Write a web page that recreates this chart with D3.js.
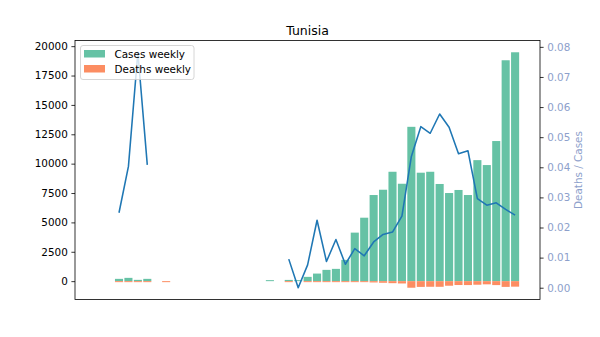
<!DOCTYPE html>
<html>
<head>
<meta charset="utf-8">
<script src="https://cdn.jsdelivr.net/npm/d3@7"></script>
<style>
  html, body { margin: 0; padding: 0; background: #fff; }
  svg { display: block; font-family: "DejaVu Sans", sans-serif; }
</style>
</head>
<body>
<svg id="chart" width="600" height="337"></svg>
<script>
// Week index (0 = first plotted week)
const weeks = d3.range(0, 43);
const casesWeekly = [195, 280, 110, 195, 0, 0, 0, 0, 0, 0,
  0, 0, 0, 0, 0, 0, 30, 0, 105, 10,
  365, 645, 960, 1045, 1810, 4130, 5400, 7330, 7780, 9310,
  8290, 13135, 9230, 9310, 8270, 7500, 7760, 7330, 10300, 9880,
  11925, 18800, 19480];
const deathsWeekly = [5, 11, 9, 8, 0, 10, 0, 0, 0, 0,
  0, 0, 0, 0, 0, 0, 0, 0, 1, 0,
  3, 14, 8, 17, 14, 54, 57, 111, 138, 172,
  197, 560, 490, 478, 480, 390, 330, 334, 305, 271,
  336, 489, 469];
const ratioWeekly = [0.0249, 0.0403, 0.0782, 0.0408, null, null, null, null, null, null,
  null, null, null, null, null, null, null, null, 0.0095, 0.0,
  0.0076, 0.0224, 0.0087, 0.0160, 0.0078, 0.0130, 0.0106, 0.0152, 0.0177, 0.0185,
  0.0238, 0.0436, 0.0535, 0.0513, 0.0577, 0.0533, 0.0445, 0.0455, 0.0296, 0.0274,
  0.0282, 0.0260, 0.0241];
const leftTicks = [0, 2500, 5000, 7500, 10000, 12500, 15000, 17500, 20000];
const rightTicks = [0, 0.01, 0.02, 0.03, 0.04, 0.05, 0.06, 0.07, 0.08];
const title = "Tunisia";
const legendLabels = ["Cases weekly", "Deaths weekly"];
const colors = { cases: "#66c2a5", deaths: "#fc8d62", line: "#1f77b4", axis2: "#8da0cb" };

const svg = d3.select("#chart");
const L = 75, R = 540, T = 40.5, B = 299.5;

const x = d3.scaleLinear().domain([-4.666, 44.64]).range([L, R]);
const barW = (x(1) - x(0)) * 0.857;

const yMin = -d3.max(deathsWeekly), yMax = d3.max(casesWeekly);
const yPad = (yMax - yMin) * 0.05;
const y = d3.scaleLinear().domain([yMin - yPad, yMax + yPad]).range([B, T]);

const rMax = d3.max(ratioWeekly.filter(v => v != null));
const rPad = rMax * 0.05;
const y2 = d3.scaleLinear().domain([-rPad, rMax + rPad]).range([B, T]);

const data = weeks.map((w, i) => ({ w, c: casesWeekly[i], d: deathsWeekly[i], r: ratioWeekly[i] }));

const plot = svg.append("g");
// cases bars
plot.selectAll("rect.cases").data(data.filter(d => d.c > 0)).join("rect")
  .attr("class", "cases")
  .attr("x", d => x(d.w) - barW / 2)
  .attr("width", barW)
  .attr("y", d => Math.min(y(d.c), y(0) - 1))
  .attr("height", d => Math.max(y(0) - y(d.c), 1))
  .attr("fill", colors.cases);
// deaths bars (downward)
plot.selectAll("rect.deaths").data(data.filter(d => d.d > 0)).join("rect")
  .attr("class", "deaths")
  .attr("x", d => x(d.w) - barW / 2)
  .attr("width", barW)
  .attr("y", y(0))
  .attr("height", d => Math.max(y(-d.d) - y(0), 1))
  .attr("fill", colors.deaths);

// ratio line
const line = d3.line().defined(d => d.r != null).x(d => x(d.w)).y(d => y2(d.r));
plot.append("path").datum(data)
  .attr("d", line)
  .attr("fill", "none")
  .attr("stroke", colors.line)
  .attr("stroke-width", 1.56)
  .attr("stroke-linejoin", "round");

// axes
const fmtL = d3.format("d");
const axL = svg.append("g").attr("transform", `translate(${L},0)`)
  .call(d3.axisLeft(y).tickValues(leftTicks).tickFormat(fmtL).tickSize(3.6).tickPadding(3.6));
axL.select(".domain").remove();
axL.selectAll("text").attr("font-size", "10.4px").attr("fill", "#000").attr("font-family", "DejaVu Sans");
axL.selectAll("line").attr("stroke", "#000").attr("stroke-width", 0.8);

const axR = svg.append("g").attr("transform", `translate(${R},0)`)
  .call(d3.axisRight(y2).tickValues(rightTicks).tickFormat(d3.format(".2f")).tickSize(3.6).tickPadding(3.6));
axR.select(".domain").remove();
axR.selectAll("text").attr("font-size", "10.4px").attr("fill", colors.axis2).attr("font-family", "DejaVu Sans");
axR.selectAll("line").attr("stroke", "#000").attr("stroke-width", 0.8);

// frame
svg.append("rect").attr("x", L).attr("y", T).attr("width", R - L).attr("height", B - T)
  .attr("fill", "none").attr("stroke", "#000").attr("stroke-width", 0.8);

// right label
svg.append("text")
  .attr("transform", `translate(581.5,${(T + B) / 2}) rotate(-90)`)
  .attr("text-anchor", "middle")
  .attr("font-size", "10.4px").attr("fill", colors.axis2)
  .text("Deaths / Cases");

// title
svg.append("text").attr("x", (L + R) / 2).attr("y", 34.5)
  .attr("text-anchor", "middle").attr("font-size", "12.5px").attr("fill", "#000")
  .text(title);

// legend
const lg = svg.append("g");
lg.append("rect").attr("x", 80.5).attr("y", 45.5).attr("width", 113.5).attr("height", 34)
  .attr("rx", 2.5).attr("fill", "#fff").attr("fill-opacity", 0.8)
  .attr("stroke", "#cccccc").attr("stroke-width", 0.8);
[colors.cases, colors.deaths].forEach((c, i) => {
  lg.append("rect").attr("x", 84).attr("y", 50 + i * 15).attr("width", 21).attr("height", 7.5).attr("fill", c);
  lg.append("text").attr("x", 114.5).attr("y", 57.5 + i * 15).attr("font-size", "10.4px").attr("fill", "#000")
    .text(legendLabels[i]);
});
</script>
</body>
</html>
